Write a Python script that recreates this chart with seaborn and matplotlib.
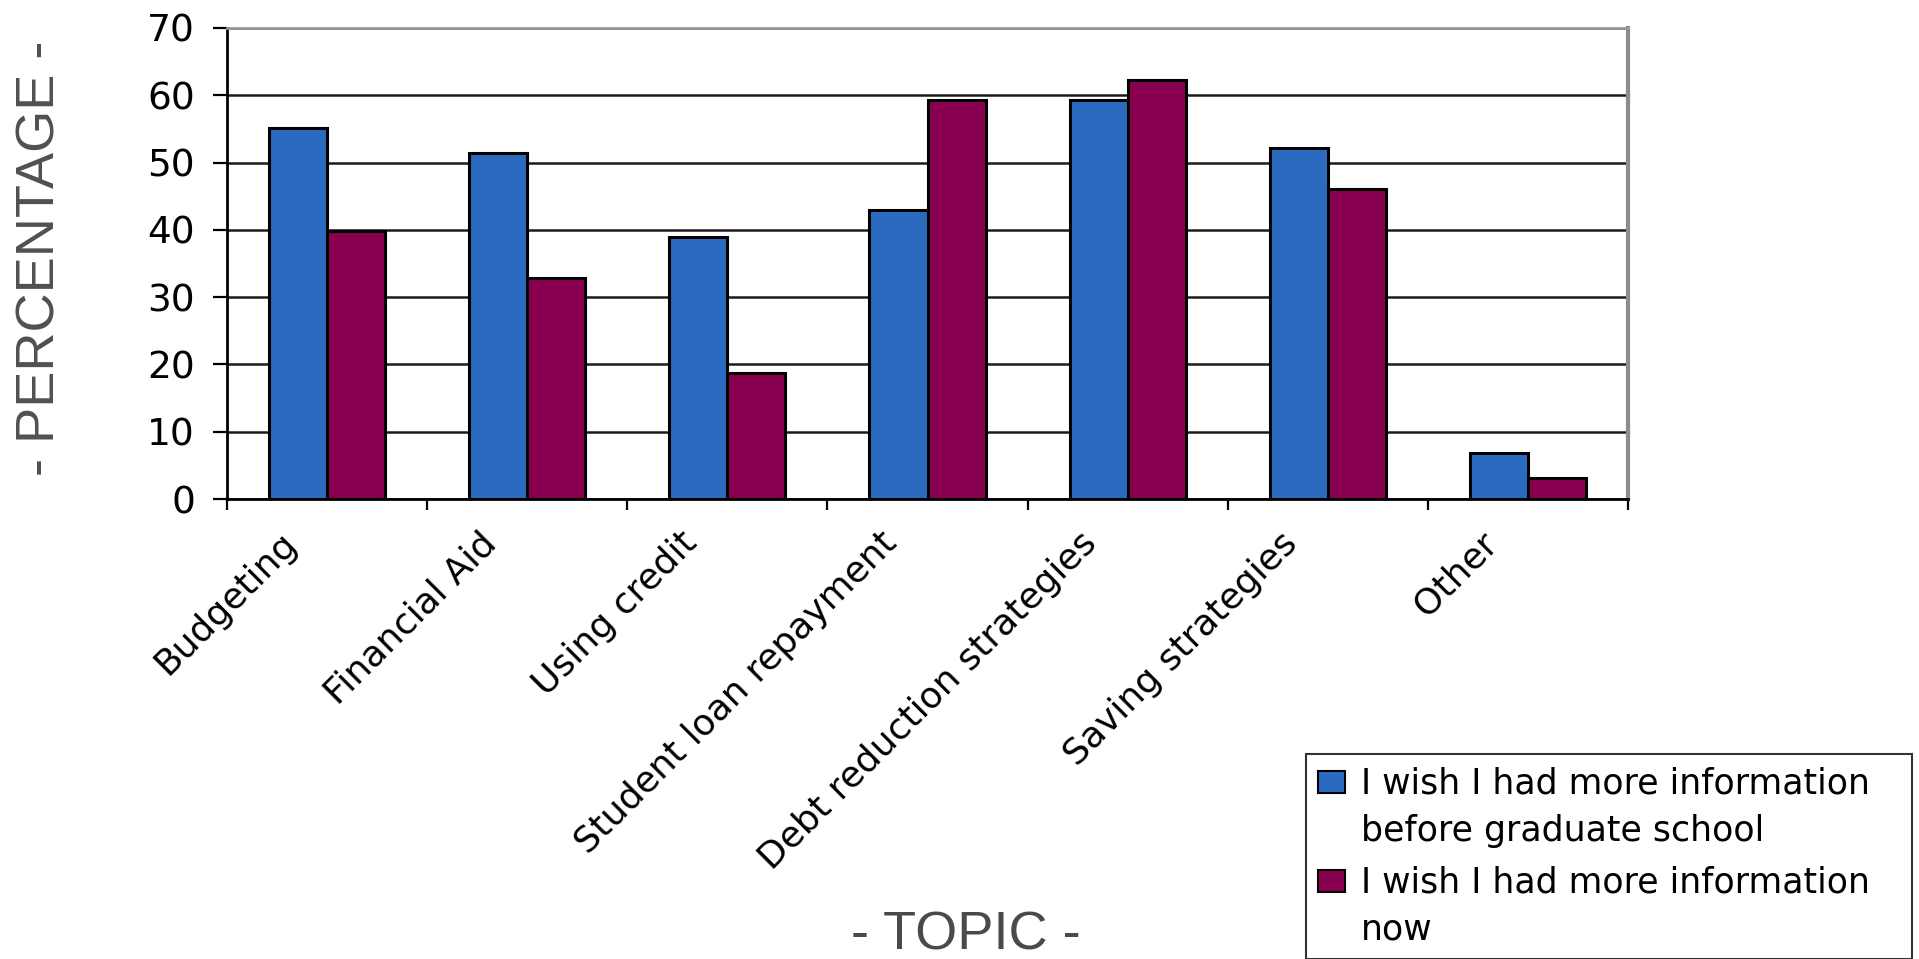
import numpy as np
import pandas as pd
import matplotlib
matplotlib.use("Agg")
import matplotlib.pyplot as plt
import matplotlib.transforms as mtransforms
from matplotlib.patches import Rectangle
from matplotlib.legend_handler import HandlerPatch
import seaborn as sns

# Survey results: share of respondents wanting more information per topic
topics = [
    "Budgeting",
    "Financial Aid",
    "Using credit",
    "Student loan repayment",
    "Debt reduction strategies",
    "Saving strategies",
    "Other",
]
before_grad = [55.2, 51.4, 39.0, 43.0, 59.3, 52.2, 6.9]
now_values = [39.8, 32.9, 18.7, 59.3, 62.2, 46.1, 3.1]
series_names = [
    "I wish I had more information\nbefore graduate school",
    "I wish I had more information\nnow",
]
y_ticks = [0, 10, 20, 30, 40, 50, 60, 70]

df = pd.DataFrame({
    "topic": topics * 2,
    "pct": before_grad + now_values,
    "series": [series_names[0]] * len(topics) + [series_names[1]] * len(topics),
})

sns.set_style("white")
plt.rcParams["font.family"] = ["DejaVu Sans"]
plt.rcParams["text.color"] = "black"
plt.rcParams["xtick.color"] = "black"
plt.rcParams["ytick.color"] = "black"
plt.rcParams["xtick.labelcolor"] = "black"
plt.rcParams["ytick.labelcolor"] = "black"

W, H = 1919, 959
fig = plt.figure(figsize=(W / 100, H / 100), dpi=100)
fig.patch.set_facecolor("white")
ax = fig.add_axes([227 / W, 1 - 499 / H, (1628 - 227) / W, (499 - 28) / H])

sns.barplot(
    data=df, x="topic", y="pct", hue="series", order=topics,
    hue_order=series_names, palette=["#2A6BBF", "#8A0050"],
    width=0.58, edgecolor="black", linewidth=2.2, saturation=1,
    ax=ax, zorder=3,
)

ax.set_ylim(0, 70)
ax.set_xlim(-0.5, len(topics) - 0.5)
ax.set_yticks(y_ticks)
ax.set_yticklabels([str(v) for v in y_ticks], fontsize=27, color="black")
ax.tick_params(axis="y", direction="out", length=10, width=1.6, pad=13,
               colors="black", left=True)

# category labels centred under each group, tick marks on group boundaries
ax.set_xticks(np.arange(len(topics)))
ax.set_xticklabels(topics, fontsize=26, rotation=45, ha="right",
                   va="center", rotation_mode="anchor", color="black")
ax.tick_params(axis="x", which="major", length=0, pad=28)
ax.set_xticks(np.arange(-0.5, len(topics)), minor=True)
ax.tick_params(axis="x", which="minor", direction="out", length=8,
               width=1.6, color="black", bottom=True)
shift = mtransforms.ScaledTranslation(-36 / 100, 0, fig.dpi_scale_trans)
for lbl in ax.get_xticklabels():
    lbl.set_transform(lbl.get_transform() + shift)

ax.set_xlabel("")
ax.set_ylabel("")

ax.yaxis.grid(True, color="#1c1c1c", linewidth=1.8)
ax.xaxis.grid(False)
ax.set_axisbelow(True)

ax.spines["left"].set_color("black")
ax.spines["left"].set_linewidth(2)
ax.spines["bottom"].set_color("black")
ax.spines["bottom"].set_linewidth(2)
ax.spines["top"].set_color("#9a9a9a")
ax.spines["top"].set_linewidth(2)
ax.spines["right"].set_color("#8c8c8c")
ax.spines["right"].set_linewidth(3)
for sp in ax.spines.values():
    sp.set_visible(True)

# axis titles
fig.text(55 / W, 1 - 258 / H, "- PERCENTAGE -", rotation=90,
         rotation_mode="anchor", ha="center", va="baseline",
         fontsize=39, color="#505050", family="Liberation Sans")
fig.text(966 / W, 1 - 950 / H, "- TOPIC -", ha="center", va="baseline",
         fontsize=39, color="#4a4a4a", family="Liberation Sans")

# legend in the lower right corner; swatches sit beside the first text line
LEG_FS = 25
LEG_LS = 1.5


def first_line_swatch(legend, orig_handle, xdescent, ydescent, width,
                      height, fontsize):
    lift = 0.5 * fontsize * 0.865 * LEG_LS + 0.11 * fontsize
    return Rectangle((-xdescent, -ydescent + lift), width, height)


handles, labels = ax.get_legend_handles_labels()
ax.get_legend().remove()
leg = fig.legend(
    handles, labels, loc="upper left",
    bbox_to_anchor=(1306 / W, 1 - 754 / H, (1912 - 1306) / W, 0),
    bbox_transform=fig.transFigure, mode="expand",
    fontsize=LEG_FS, frameon=True, fancybox=False, borderaxespad=0,
    handlelength=0.78, handleheight=0.6, handletextpad=0.45,
    borderpad=0.35, labelspacing=0.5,
    handler_map={h: HandlerPatch(patch_func=first_line_swatch) for h in handles},
)
leg.get_frame().set_edgecolor("black")
leg.get_frame().set_linewidth(1.5)
for t in leg.get_texts():
    t.set_linespacing(LEG_LS)
    t.set_color("black")
for h in leg.legend_handles:
    h.set_edgecolor("black")
    h.set_linewidth(1.5)

fig.savefig("out.png", dpi=100, facecolor="white")
